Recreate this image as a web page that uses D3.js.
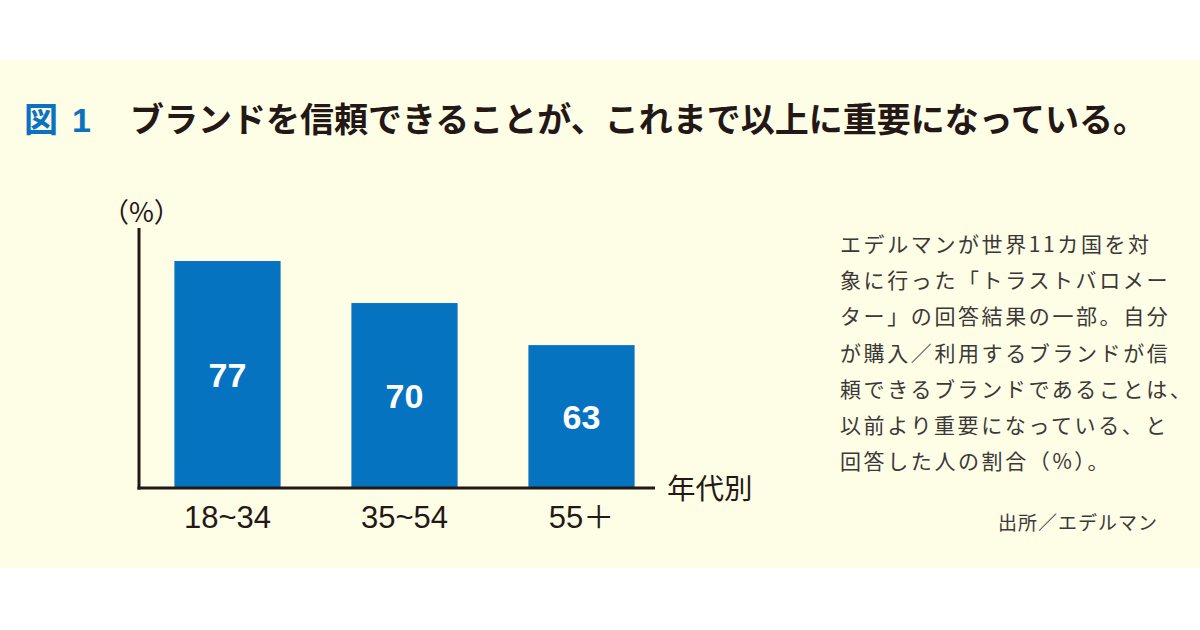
<!DOCTYPE html>
<html>
<head>
<meta charset="utf-8">
<script src="https://cdn.jsdelivr.net/npm/d3@7"></script>
<style>
  html, body { margin: 0; padding: 0; background: #ffffff; }
  svg { display: block; }
</style>
</head>
<body>
<svg id="chart" width="1200" height="630"></svg>
<script>
// data
const categories = ["18~34", "35~54", "55＋"];
const values = [77, 70, 63];
const figLabel = ["図", "1"];
const titleText = "ブランドを信頼できることが、これまで以上に重要になっている。";
const unitLabel = "（%）";
const xLabel = "年代別";
const noteLines = [
  "エデルマンが世界11カ国を対",
  "象に行った「トラストバロメー",
  "ター」の回答結果の一部。自分",
  "が購入／利用するブランドが信",
  "頼できるブランドであることは、",
  "以前より重要になっている、と",
  "回答した人の割合（%）。"
];
const sourceText = "出所／エデルマン";

const svg = d3.select("#chart");
const jp = "'Noto Sans CJK JP', 'Noto Sans', sans-serif";
const latin = "'Liberation Sans', Arial, 'Noto Sans CJK JP', sans-serif";

// cream panel
svg.append("rect")
  .attr("x", 0).attr("y", 60)
  .attr("width", 1200).attr("height", 508)
  .attr("fill", "#fefde6");

// title
const title = svg.append("text")
  .attr("y", 132)
  .attr("font-family", jp)
  .attr("font-size", 34)
  .attr("font-weight", 700);
title.append("tspan").attr("x", 24).attr("fill", "#0a72c0").text(figLabel[0]);
title.append("tspan").attr("x", 72).attr("fill", "#0a72c0")
  .attr("font-family", latin).text(figLabel[1]);
title.append("tspan").attr("x", 130).attr("fill", "#231815").text(titleText);

// scales
const x = d3.scaleBand()
  .domain(categories)
  .range([139, 670])
  .paddingInner(0.4)
  .paddingOuter(0.2);

const y = d3.scaleLinear()
  .domain([39.2, 82.5])
  .range([488, 228]);

const g = svg.append("g");

// bars
g.selectAll("rect.bar")
  .data(values)
  .enter()
  .append("rect")
  .attr("class", "bar")
  .attr("x", (d, i) => x(categories[i]))
  .attr("y", d => y(d))
  .attr("width", x.bandwidth())
  .attr("height", d => y.range()[0] - y(d))
  .attr("fill", "#0673c0");

// value labels in the middle of each bar
g.selectAll("text.val")
  .data(values)
  .enter()
  .append("text")
  .attr("class", "val")
  .attr("x", (d, i) => x(categories[i]) + x.bandwidth() / 2)
  .attr("y", d => (y(d) + y.range()[0]) / 2)
  .attr("dy", "0.36em")
  .attr("text-anchor", "middle")
  .attr("font-family", latin)
  .attr("font-weight", 700)
  .attr("font-size", 34)
  .attr("fill", "#ffffff")
  .text(d => d);

// axes (plain lines, no ticks)
g.append("line")
  .attr("x1", 139).attr("x2", 139)
  .attr("y1", y.range()[1]).attr("y2", y.range()[0] + 1.5)
  .attr("stroke", "#231815").attr("stroke-width", 3);
g.append("line")
  .attr("x1", 137.5).attr("x2", 655)
  .attr("y1", y.range()[0]).attr("y2", y.range()[0])
  .attr("stroke", "#231815").attr("stroke-width", 3);

const xAxis = d3.axisBottom(x).tickSize(0).tickPadding(18);
const ax = g.append("g")
  .attr("transform", `translate(0,${y.range()[0]})`)
  .call(xAxis);
ax.select(".domain").remove();
ax.selectAll("text")
  .attr("font-family", latin)
  .attr("font-size", 31)
  .attr("fill", "#231815");

g.append("text")
  .attr("x", 667).attr("y", 489)
  .attr("dy", "0.36em")
  .attr("font-family", jp)
  .attr("font-size", 28.5)
  .attr("fill", "#231815")
  .text(xLabel);

g.append("text")
  .attr("x", 102).attr("y", 222)
  .attr("font-family", jp)
  .attr("font-size", 27)
  .attr("fill", "#231815")
  .text(unitLabel);

// explanatory note on the right
svg.append("g").selectAll("text")
  .data(noteLines)
  .enter()
  .append("text")
  .attr("x", 840)
  .attr("y", (d, i) => 252 + i * 36.2)
  .attr("font-family", jp)
  .attr("font-size", 21)
  .attr("letter-spacing", 2.6)
  .attr("fill", "#3b3838")
  .text(d => d);

svg.append("text")
  .attr("x", 1158).attr("y", 530)
  .attr("text-anchor", "end")
  .attr("font-family", jp)
  .attr("font-size", 19)
  .attr("letter-spacing", 1)
  .attr("fill", "#3b3838")
  .text(sourceText);
</script>
</body>
</html>
